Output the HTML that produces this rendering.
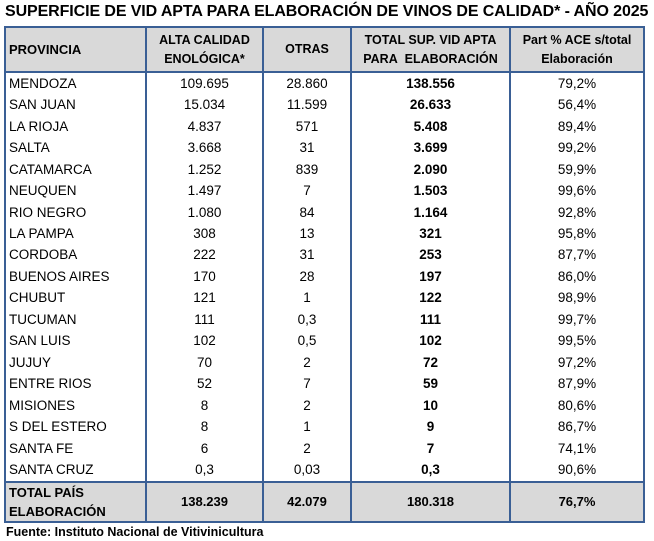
<!DOCTYPE html><html><head><meta charset="utf-8"><style>
body{margin:0;width:654px;height:541px;background:#fff;font-family:"Liberation Sans",sans-serif;color:#000;position:relative;overflow:hidden}
.t{position:absolute;left:5px;top:3px;font-size:16px;font-weight:bold;letter-spacing:-0.1px;white-space:nowrap}
table{position:absolute;left:4px;top:26px;border-collapse:collapse;font-size:13.5px}
td{padding:0;height:21.47px;text-align:center;border-left:2px solid #3a5f95;border-right:2px solid #3a5f95;white-space:nowrap;line-height:14px}
td:first-child{text-align:left;padding-left:3px}
tr.h td{background:#d9d9d9;font-weight:bold;height:43px;border:2px solid #3a5f95;font-size:12.5px;line-height:19px}
tr.h td:first-child{font-size:13px}
tr.f td{background:#d9d9d9;font-weight:bold;height:38px;border:2px solid #3a5f95;line-height:19px;font-size:13px}
td.b{font-weight:bold}
.s{position:absolute;left:6px;top:525px;font-size:12.5px;font-weight:bold}
</style></head><body>
<div class="t">SUPERFICIE DE VID APTA PARA ELABORACIÓN DE VINOS DE CALIDAD* - AÑO 2025</div>
<table>
<colgroup><col style="width:141px"><col style="width:117px"><col style="width:88px"><col style="width:159px"><col style="width:134px"></colgroup>
<tr class="h"><td>PROVINCIA</td><td>ALTA CALIDAD<br>ENOLÓGICA*</td><td>OTRAS</td><td>TOTAL SUP. VID APTA<br>PARA&nbsp; ELABORACIÓN</td><td>Part % ACE s/total<br>Elaboración</td></tr>
<tr><td>MENDOZA</td><td>109.695</td><td>28.860</td><td class="b">138.556</td><td>79,2%</td></tr>
<tr><td>SAN JUAN</td><td>15.034</td><td>11.599</td><td class="b">26.633</td><td>56,4%</td></tr>
<tr><td>LA RIOJA</td><td>4.837</td><td>571</td><td class="b">5.408</td><td>89,4%</td></tr>
<tr><td>SALTA</td><td>3.668</td><td>31</td><td class="b">3.699</td><td>99,2%</td></tr>
<tr><td>CATAMARCA</td><td>1.252</td><td>839</td><td class="b">2.090</td><td>59,9%</td></tr>
<tr><td>NEUQUEN</td><td>1.497</td><td>7</td><td class="b">1.503</td><td>99,6%</td></tr>
<tr><td>RIO NEGRO</td><td>1.080</td><td>84</td><td class="b">1.164</td><td>92,8%</td></tr>
<tr><td>LA PAMPA</td><td>308</td><td>13</td><td class="b">321</td><td>95,8%</td></tr>
<tr><td>CORDOBA</td><td>222</td><td>31</td><td class="b">253</td><td>87,7%</td></tr>
<tr><td>BUENOS AIRES</td><td>170</td><td>28</td><td class="b">197</td><td>86,0%</td></tr>
<tr><td>CHUBUT</td><td>121</td><td>1</td><td class="b">122</td><td>98,9%</td></tr>
<tr><td>TUCUMAN</td><td>111</td><td>0,3</td><td class="b">111</td><td>99,7%</td></tr>
<tr><td>SAN LUIS</td><td>102</td><td>0,5</td><td class="b">102</td><td>99,5%</td></tr>
<tr><td>JUJUY</td><td>70</td><td>2</td><td class="b">72</td><td>97,2%</td></tr>
<tr><td>ENTRE RIOS</td><td>52</td><td>7</td><td class="b">59</td><td>87,9%</td></tr>
<tr><td>MISIONES</td><td>8</td><td>2</td><td class="b">10</td><td>80,6%</td></tr>
<tr><td>S DEL ESTERO</td><td>8</td><td>1</td><td class="b">9</td><td>86,7%</td></tr>
<tr><td>SANTA FE</td><td>6</td><td>2</td><td class="b">7</td><td>74,1%</td></tr>
<tr><td>SANTA CRUZ</td><td>0,3</td><td>0,03</td><td class="b">0,3</td><td>90,6%</td></tr>
<tr class="f"><td>TOTAL PAÍS<br>ELABORACIÓN</td><td>138.239</td><td>42.079</td><td>180.318</td><td>76,7%</td></tr>
</table>
<div class="s">Fuente: Instituto Nacional de Vitivinicultura</div>
</body></html>
